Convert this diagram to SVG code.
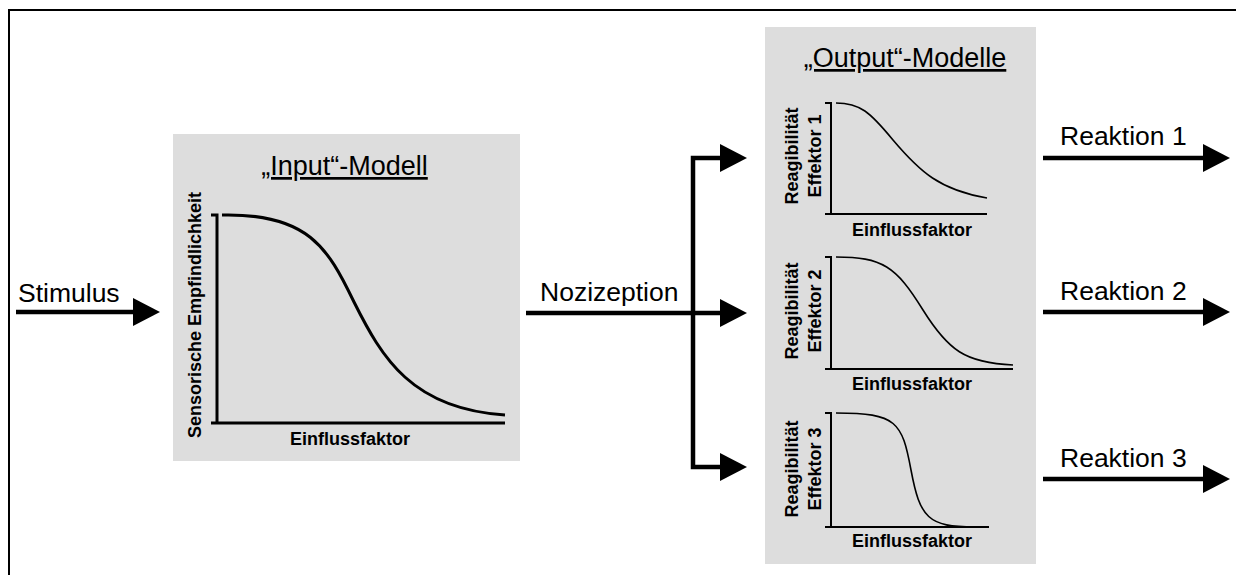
<svg xmlns="http://www.w3.org/2000/svg" width="1236" height="575" viewBox="0 0 1236 575">
<style>
.box{fill:#dddddd;stroke:none}
.lbl{font-family:"Liberation Sans",Arial,sans-serif;font-size:26.5px;fill:#000}
.ttl{font-family:"Liberation Sans",Arial,sans-serif;font-size:27px;fill:#000;text-anchor:middle;text-decoration:underline}
.ax{font-family:"Liberation Sans",Arial,sans-serif;font-size:18px;font-weight:bold;fill:#000;text-anchor:middle}
.axis{fill:none;stroke:#000;stroke-width:3}
.axs{fill:none;stroke:#000;stroke-width:2}
.crv{fill:none;stroke:#000;stroke-width:3}
.crs{fill:none;stroke:#000;stroke-width:1.6}
.arr{fill:none;stroke:#000;stroke-width:4.5;stroke-linejoin:miter;marker-end:url(#ah)}
</style>
<defs>
<marker id="ah" markerUnits="userSpaceOnUse" markerWidth="30" markerHeight="30" refX="2" refY="14" orient="auto">
<path d="M0,0 L27,14 L0,28 z" fill="#000"/>
</marker>
</defs>
<rect width="1236" height="575" fill="#fff"/>
<path d="M9,575 V10 H1236" fill="none" stroke="#000" stroke-width="2"/>

<g id="input-model">
<rect class="box" x="173" y="134" width="347" height="327"/>
<text class="ttl" x="344.5" y="175">„Input“-Modell</text>
<path class="axis" d="M211,215 H217 V423 M211,423 H505"/>
<path class="crv" d="M222,215 C308,213 328,248 354,302 C382,358 412,409 505,415"/>
<text class="ax" transform="translate(201,315) rotate(-90)">Sensorische Empfindlichkeit</text>
<text class="ax" x="350" y="445">Einflussfaktor</text>
</g>

<g id="output-models">
<rect class="box" x="765" y="27" width="271" height="537"/>
<text class="ttl" x="905" y="67">„Output“-Modelle</text>
</g>

<g id="effektor1">
<path class="axs" d="M825,103 H831 V214 M825,214 H987"/>
<path class="crs" d="M836,103 C860,103 870,112 893,140 C920,172 940,190 987,198"/>
<text class="ax" transform="translate(798,156) rotate(-90)">Reagibilität</text>
<text class="ax" transform="translate(821,156) rotate(-90)">Effektor 1</text>
<text class="ax" x="912" y="236">Einflussfaktor</text>
</g>

<g id="effektor2">
<path class="axs" d="M825,257 H831 V369 M825,369 H1013"/>
<path class="crs" d="M836,257 C882,257 896,266 923,310 C948,350 965,363 1013,365"/>
<text class="ax" transform="translate(798,311) rotate(-90)">Reagibilität</text>
<text class="ax" transform="translate(821,311) rotate(-90)">Effektor 2</text>
<text class="ax" x="912" y="390">Einflussfaktor</text>
</g>

<g id="effektor3">
<path class="axs" d="M825,413 H831 V527 M825,527 H989"/>
<path class="crs" d="M836,413 C897,413 902,422 911,470 C920,518 928,527 975,527"/>
<text class="ax" transform="translate(798,469) rotate(-90)">Reagibilität</text>
<text class="ax" transform="translate(821,469) rotate(-90)">Effektor 3</text>
<text class="ax" x="912" y="547">Einflussfaktor</text>
</g>

<g id="connectors">
<path class="arr" d="M16,312 H135"/>
<path class="arr" d="M526,313 H722"/>
<path class="arr" d="M693,313 V158 H722"/>
<path class="arr" d="M693,313 V467 H722"/>
<path class="arr" d="M1043,158 H1205"/>
<path class="arr" d="M1043,312 H1205"/>
<path class="arr" d="M1043,479 H1205"/>
</g>

<g id="labels">
<text class="lbl" x="18" y="302">Stimulus</text>
<text class="lbl" x="540" y="301">Nozizeption</text>
<text class="lbl" x="1060" y="145">Reaktion 1</text>
<text class="lbl" x="1060" y="300">Reaktion 2</text>
<text class="lbl" x="1060" y="467">Reaktion 3</text>
</g>
</svg>
